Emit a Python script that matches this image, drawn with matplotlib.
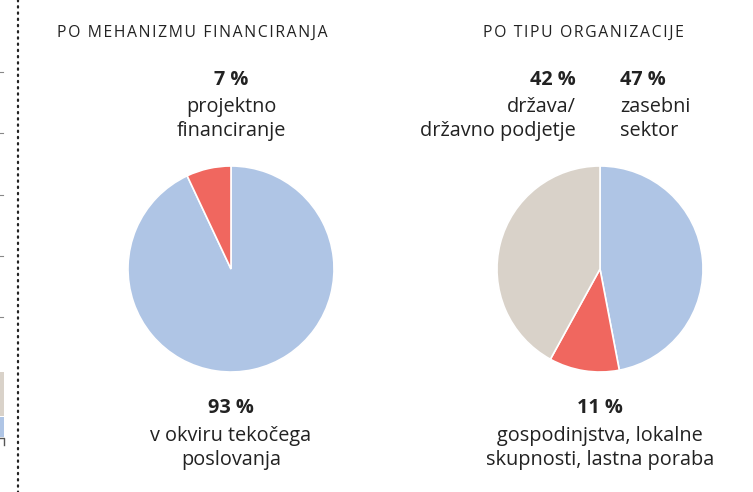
import matplotlib.pyplot as plt
from matplotlib.lines import Line2D

plt.rcParams['font.family'] = ['Open Sans', 'DejaVu Sans']

# Data
mech_labels = ['v okviru tekočega\nposlovanja', 'projektno\nfinanciranje']
mech_values = [93, 7]
org_labels = ['zasebni\nsektor', 'gospodinjstva, lokalne\nskupnosti, lastna poraba',
              'država/\ndržavno podjetje']
org_values = [47, 11, 42]

BLUE = '#afc5e5'
RED = '#f0675f'
BEIGE = '#d9d2c9'
TXT = '#222222'

W, H = 753, 492
fig = plt.figure(figsize=(W / 100, H / 100), dpi=100)
ax = fig.add_axes([0, 0, 1, 1])

# y axis is inverted below, so startangle=-90 + counterclock means
# starting at 12 o'clock and going clockwise on screen
wp = dict(edgecolor='white', linewidth=1.2)
ax.pie(mech_values, colors=[BLUE, RED], startangle=-90, counterclock=True,
       center=(231, 269), radius=103, wedgeprops=wp, frame=True)
ax.pie(org_values, colors=[BLUE, RED, BEIGE], startangle=-90, counterclock=True,
       center=(600, 269), radius=103, wedgeprops=wp, frame=True)
ax.set_xlim(0, W)
ax.set_ylim(H, 0)
ax.set_aspect('equal')
ax.axis('off')


def spaced(s):
    return '\u200a'.join(s)


ax.text(192, 33, spaced('PO MEHANIZMU FINANCIRANJA'), ha='center', va='center',
        fontsize=11.3, color=TXT)
ax.text(583, 33, spaced('PO TIPU ORGANIZACIJE'), ha='center', va='center',
        fontsize=11.3, color=TXT)

fs = 14.3
ls = 1.3
# left pie labels
ax.text(231, 80, f'{mech_values[1]} %', ha='center', va='center', fontsize=fs,
        fontweight='bold', color=TXT)
ax.text(231, 119, mech_labels[1], ha='center', va='center', fontsize=fs,
        color=TXT, linespacing=ls)
ax.text(231, 408, f'{mech_values[0]} %', ha='center', va='center', fontsize=fs,
        fontweight='bold', color=TXT)
ax.text(231, 448, mech_labels[0], ha='center', va='center', fontsize=fs,
        color=TXT, linespacing=ls)

# right pie labels
ax.text(576, 80, f'{org_values[2]} %', ha='right', va='center', fontsize=fs,
        fontweight='bold', color=TXT)
ax.text(576, 119, org_labels[2], ha='right', va='center', fontsize=fs,
        color=TXT, linespacing=ls, multialignment='right')
ax.text(620, 80, f'{org_values[0]} %', ha='left', va='center', fontsize=fs,
        fontweight='bold', color=TXT)
ax.text(620, 119, org_labels[0], ha='left', va='center', fontsize=fs,
        color=TXT, linespacing=ls, multialignment='left')
ax.text(600, 408, f'{org_values[1]} %', ha='center', va='center', fontsize=fs,
        fontweight='bold', color=TXT)
ax.text(600, 448, org_labels[1], ha='center', va='center', fontsize=fs,
        color=TXT, linespacing=ls)

# dotted separator
ax.add_line(Line2D([18, 18], [0, H], color='#222222', linestyle=(0, (0.6, 2.2)),
                   linewidth=1.6, dash_capstyle='round'))

# left neighbouring chart remnants
for y in [72, 133, 195, 256, 317]:
    ax.add_line(Line2D([0, 3], [y, y], color='#888888', linewidth=0.8))
ax.add_patch(plt.Rectangle((0, 372), 4, 44, color=BEIGE, lw=0))
ax.add_patch(plt.Rectangle((0, 417), 4, 20, color=BLUE, lw=0))
ax.add_line(Line2D([0, 4, 4], [438, 438, 445], color='#555555', linewidth=1))

fig.savefig('out.png', dpi=100)
